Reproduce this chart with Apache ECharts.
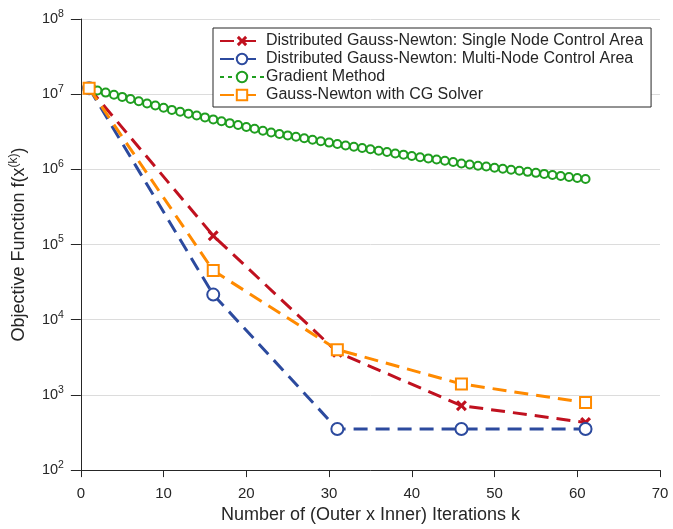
<!DOCTYPE html>
<html>
<head>
<meta charset="utf-8">
<script src="https://cdn.jsdelivr.net/npm/echarts@6/dist/echarts.min.js"></script>
<style>
  html, body { margin: 0; padding: 0; background: #fff; overflow: hidden; }
  #chart { width: 673px; height: 529px; }
</style>
</head>
<body>
<div id="chart"></div>
<script>
// Iteration counts where the Newton-type methods report
const gnIterations = [1, 16, 31, 46, 61];

// Objective values per method
const singleNode = [1.2e7, 1.31e5, 3.7e3, 7.2e2, 4.3e2];
const multiNode  = [1.2e7, 2.16e4, 3.52e2, 3.52e2, 3.52e2];
const cgSolver   = [1.2e7, 4.5e4, 4.0e3, 1.4e3, 7.9e2];

// Gradient method, one value per iteration k = 1..61
const gradientValues = [
  1.20e7, 1.12e7, 1.05e7, 9.84e6, 9.20e6, 8.61e6, 8.05e6, 7.53e6, 7.06e6, 6.61e6,
  6.18e6, 5.83e6, 5.51e6, 5.20e6, 4.91e6, 4.62e6, 4.37e6, 4.12e6, 3.89e6, 3.67e6,
  3.47e6, 3.27e6, 3.09e6, 2.96e6, 2.83e6, 2.71e6, 2.59e6, 2.48e6, 2.37e6, 2.27e6,
  2.17e6, 2.08e6, 2.00e6, 1.92e6, 1.85e6, 1.77e6, 1.70e6, 1.63e6, 1.57e6, 1.51e6,
  1.45e6, 1.40e6, 1.35e6, 1.30e6, 1.25e6, 1.20e6, 1.16e6, 1.12e6, 1.09e6, 1.05e6,
  1.02e6, 9.89e5, 9.57e5, 9.27e5, 8.99e5, 8.71e5, 8.43e5, 8.18e5, 7.93e5, 7.67e5,
  7.43e5
];

const seriesNames = [
  'Distributed Gauss-Newton: Single Node Control Area',
  'Distributed Gauss-Newton: Multi-Node Control Area',
  'Gradient Method',
  'Gauss-Newton with CG Solver'
];

const xTicks = { min: 0, max: 70, interval: 10 };
const yRange = { min: 1e2, max: 1e8 };

const pair = (xs, ys) => xs.map((x, i) => [x, ys[i]]);
const gradientPairs = gradientValues.map((v, i) => [i + 1, v]);

const FONT = 'Liberation Sans, Arial, Helvetica, sans-serif';
const TXT = '#262626';
const crossPath = 'path://M2,0 L5,3 L8,0 L10,2 L7,5 L10,8 L8,10 L5,7 L2,10 L0,8 L3,5 L0,2 Z';

const chart = echarts.init(document.getElementById('chart'), null, { renderer: 'canvas' });

chart.setOption({
  animation: false,
  backgroundColor: '#ffffff',
  grid: { left: 80, right: 13, top: 19, bottom: 51, containLabel: false },
  legend: {
    orient: 'vertical',
    left: 213,
    top: 28,
    padding: [5, 8, 4, 6],
    backgroundColor: '#ffffff',
    borderColor: '#262626',
    borderWidth: 1,
    borderRadius: 0,
    itemWidth: 44,
    itemHeight: 13,
    itemGap: 2,
    textStyle: { fontFamily: FONT, fontSize: 16, color: TXT, lineHeight: 15, padding: [0, 0, 0, -3] },
    data: seriesNames
  },
  xAxis: {
    type: 'value',
    min: xTicks.min,
    max: xTicks.max,
    interval: xTicks.interval,
    name: 'Number of (Outer x Inner) Iterations k',
    nameLocation: 'middle',
    nameGap: 33,
    nameTextStyle: { fontFamily: FONT, fontSize: 18, color: TXT },
    axisLine: { show: true, lineStyle: { color: '#262626', width: 1 } },
    axisTick: { show: true, inside: false, length: 7, lineStyle: { color: '#262626' } },
    axisLabel: { fontFamily: FONT, fontSize: 15, color: TXT, margin: 16 },
    splitLine: { show: false }
  },
  yAxis: {
    type: 'log',
    logBase: 10,
    min: yRange.min,
    max: yRange.max,
    name: '{n|Objective Function f(x}{s|(k)}{n|)}',
    nameLocation: 'middle',
    nameRotate: 90,
    nameGap: 46,
    nameTextStyle: {
      fontFamily: FONT, color: TXT,
      rich: {
        n: { fontFamily: FONT, fontSize: 18, color: TXT, lineHeight: 24 },
        s: { fontFamily: FONT, fontSize: 12, color: TXT, padding: [0, 0, 11, 0], lineHeight: 24 }
      }
    },
    axisLine: { show: true, lineStyle: { color: '#262626', width: 1 } },
    axisTick: { show: true, inside: false, length: 10, lineStyle: { color: '#262626' } },
    axisLabel: {
      margin: 17,
      formatter: function (v) {
        const e = Math.round(Math.log10(v));
        return '{b|10}{s|' + e + '}';
      },
      rich: {
        b: { fontFamily: FONT, fontSize: 14.5, color: TXT, lineHeight: 20 },
        s: { fontFamily: FONT, fontSize: 10.5, color: TXT, padding: [0, 0, 10, 0], lineHeight: 20 }
      }
    },
    splitLine: { show: true, lineStyle: { color: '#dcdcdc', width: 1 } },
    minorTick: { show: false }
  },
  series: [
    {
      name: seriesNames[0],
      type: 'line',
      data: pair(gnIterations, singleNode),
      symbol: crossPath,
      symbolSize: 11,
      lineStyle: { color: '#c0111f', width: 3, type: [14, 8] },
      itemStyle: { color: '#c0111f', borderColor: '#c0111f', borderWidth: 0 },
      z: 2
    },
    {
      name: seriesNames[1],
      type: 'line',
      data: pair(gnIterations, multiNode),
      symbol: 'emptyCircle',
      symbolSize: 12,
      lineStyle: { color: '#2c4a9e', width: 3, type: [14, 8] },
      itemStyle: { color: '#2c4a9e', borderColor: '#2c4a9e', borderWidth: 3.5 },
      z: 3
    },
    {
      name: seriesNames[2],
      type: 'line',
      data: gradientPairs,
      symbol: 'emptyCircle',
      symbolSize: 8,
      showAllSymbol: true,
      lineStyle: { color: '#1f9e1f', width: 1, type: [4, 4] },
      itemStyle: { color: '#1f9e1f', borderColor: '#1f9e1f', borderWidth: 1.3 },
      z: 4
    },
    {
      name: seriesNames[3],
      type: 'line',
      data: pair(gnIterations, cgSolver),
      symbol: 'emptyRect',
      symbolSize: 11,
      lineStyle: { color: '#ff8a00', width: 3, type: [14, 8] },
      itemStyle: { color: '#ff8a00', borderColor: '#ff8a00', borderWidth: 4 },
      z: 5
    }
  ]
});
</script>
</body>
</html>
